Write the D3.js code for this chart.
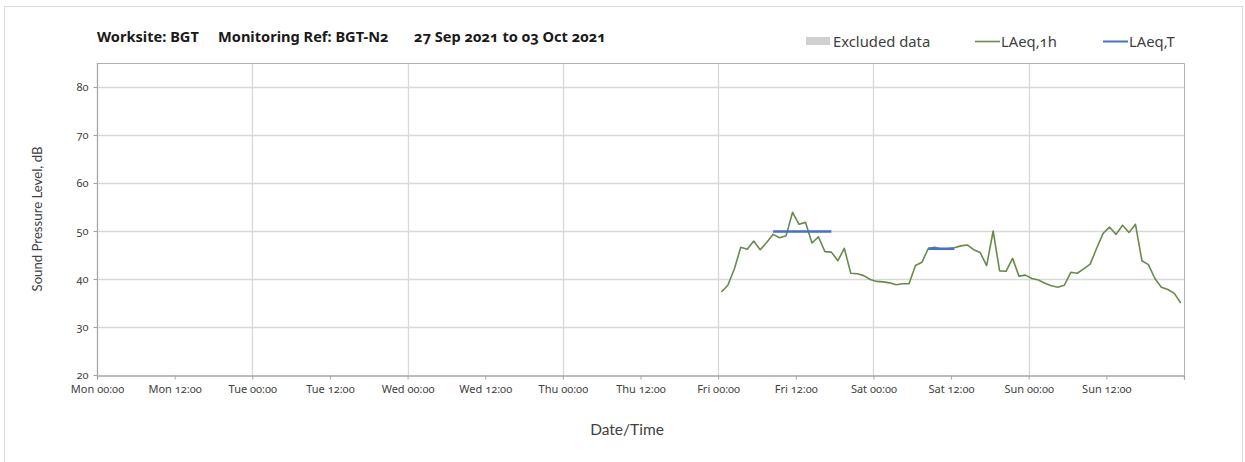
<!DOCTYPE html>
<html>
<head>
<meta charset="utf-8">
<script src="https://cdn.jsdelivr.net/npm/d3@7"></script>
<style>
  html, body { margin: 0; padding: 0; background: #fff; }
  svg text { font-family: Lato, "Open Sans", sans-serif; }
  svg text.num { font-family: "Noto Sans", Lato, sans-serif; font-feature-settings: "onum" 1; font-variant-numeric: oldstyle-nums; }
</style>
</head>
<body>
<svg id="chart" width="1245" height="462"></svg>
<script>
// ---- data ----
const titleParts = ["Worksite: BGT", "Monitoring Ref: BGT-N2", "27 Sep 2021 to 03 Oct 2021"];
const legendLabels = ["Excluded data", "LAeq,1h", "LAeq,T"];
const yTickValues = [20, 30, 40, 50, 60, 70, 80];
const weekStart = new Date(2021, 8, 27, 0, 0);   // Mon 27 Sep 2021 00:00
const weekEnd = new Date(2021, 9, 4, 0, 0);      // Mon 04 Oct 2021 00:00
const seriesStart = new Date(2021, 9, 1, 0, 30); // first hourly value (Fri 01 Oct, mid-hour)
// LAeq,1h hourly values, Fri 00:00 .. Sun 23:00
const laeq1h = [
  37.3, 38.7, 42.1, 46.6, 46.2, 47.9, 46.1, 47.6, 49.3, 48.6, 49.0, 53.9,
  51.4, 51.8, 47.5, 48.8, 45.7, 45.6, 43.8, 46.4, 41.2, 41.1, 40.7, 39.9,
  39.5, 39.4, 39.2, 38.8, 39.0, 39.0, 42.8, 43.5, 46.4, 46.6, 46.2, 46.3,
  46.5, 46.9, 47.1, 46.1, 45.5, 42.8, 50.0, 41.7, 41.6, 44.3, 40.6, 40.8,
  40.1, 39.8, 39.1, 38.6, 38.3, 38.7, 41.4, 41.2, 42.1, 43.1, 46.4, 49.5,
  50.8, 49.3, 51.2, 49.7, 51.4, 43.8, 43.0, 40.1, 38.3, 37.8, 37.0, 35.0
];
// LAeq,T periods: first / last hourly index covered, and level
const laeqTFrom = [8, 32];
const laeqTTo = [17, 36];
const laeqTValue = [49.9, 46.3];

// ---- layout ----
const svg = d3.select("#chart");
const L = 97, R = 1184, T = 63, B = 375;

// outer frame
svg.append("rect").attr("x", 4.5).attr("y", 6.5).attr("width", 1238).attr("height", 470)
  .attr("fill", "none").attr("stroke", "#d9d9d9");

const x = d3.scaleTime().domain([weekStart, weekEnd]).range([L, R]);
const y = d3.scaleLinear().domain([20, 85]).range([B, T]);
const timeOf = i => d3.timeHour.offset(seriesStart, i);

// gridlines
const g = svg.append("g");
g.selectAll(".hg").data(yTickValues.filter(v => v > 20)).join("line")
  .attr("x1", L).attr("x2", R).attr("y1", d => Math.round(y(d)) + 0.5).attr("y2", d => Math.round(y(d)) + 0.5)
  .attr("stroke", "#d9d9d9").attr("stroke-width", 1.3);
const days = d3.timeDay.range(d3.timeDay.offset(weekStart, 1), weekEnd);
g.selectAll(".vg").data(days).join("line")
  .attr("x1", d => Math.round(x(d)) + 0.5).attr("x2", d => Math.round(x(d)) + 0.5).attr("y1", T).attr("y2", B)
  .attr("stroke", "#d9d9d9").attr("stroke-width", 1.3);

// plot border (top/right)
svg.append("path").attr("d", `M${L},${T + 0.5}H${R + 0.5}V${B}`).attr("fill", "none").attr("stroke", "#b0b0b0");

// axes
const xTicks = d3.timeHour.every(12).range(weekStart, d3.timeHour.offset(weekEnd, 1));
const xAxis = d3.axisBottom(x).tickValues(xTicks).tickSize(4).tickPadding(6)
  .tickFormat(d => +d >= +weekEnd ? "" : d3.timeFormat("%a %H:%M")(d));
const gx = svg.append("g").attr("transform", `translate(0,${B + 0.5})`).call(xAxis);
const yAxis = d3.axisLeft(y).tickValues(yTickValues).tickSize(4).tickPadding(5);
const gy = svg.append("g").attr("transform", `translate(${L + 0.5},0)`).call(yAxis);
[gx, gy].forEach(a => {
  a.select(".domain").attr("stroke", "#a6a6a6").attr("stroke-width", 1.3);
  a.selectAll(".tick line").attr("stroke", "#a6a6a6");
  a.selectAll("text").attr("class", "num").attr("fill", "#404040").style("font-size", "11px");
});
gy.select(".domain").attr("d", `M0,${T}V${B}`);

// LAeq,1h line
const line = d3.line().x((d, i) => x(timeOf(i))).y(d => y(d));
svg.append("path").datum(laeq1h).attr("d", line).attr("fill", "none")
  .attr("stroke", "#6a8a4c").attr("stroke-width", 1.6).attr("stroke-linejoin", "round");

// LAeq,T segments
svg.selectAll(".lt").data(laeqTValue).join("line")
  .attr("x1", (d, i) => x(timeOf(laeqTFrom[i]))).attr("x2", (d, i) => x(timeOf(laeqTTo[i])))
  .attr("y1", d => y(d)).attr("y2", d => y(d))
  .attr("stroke", "#4472c4").attr("stroke-width", 2.6);

// title
const titleX = [97, 218, 414];
svg.selectAll(".title").data(titleParts).join("text")
  .attr("class", "num")
  .attr("x", (d, i) => titleX[i]).attr("y", 42)
  .attr("fill", "#1a1a1a").style("font-size", "14.6px").style("font-weight", "bold").text(d => d);

// legend
const lg = svg.append("g");
lg.append("rect").attr("x", 806).attr("y", 37).attr("width", 24).attr("height", 8).attr("fill", "#d0d0d0");
lg.append("line").attr("x1", 975).attr("x2", 1000).attr("y1", 41.5).attr("y2", 41.5).attr("stroke", "#6a8a4c").attr("stroke-width", 1.6);
lg.append("line").attr("x1", 1103).attr("x2", 1128).attr("y1", 41.5).attr("y2", 41.5).attr("stroke", "#4472c4").attr("stroke-width", 2);
const legendX = [833, 1001, 1129];
lg.selectAll("text").data(legendLabels).join("text")
  .attr("class", "num")
  .attr("x", (d, i) => legendX[i]).attr("y", 46.5)
  .attr("fill", "#404040").style("font-size", "14.8px").text(d => d);

// axis titles
svg.append("text").attr("transform", "translate(42,219) rotate(-90)").attr("text-anchor", "middle")
  .attr("fill", "#404040").style("font-size", "13.2px").text("Sound Pressure Level, dB");
svg.append("text").attr("x", 627).attr("y", 435).attr("text-anchor", "middle")
  .attr("fill", "#404040").style("font-size", "15.5px").text("Date/Time");
</script>
</body>
</html>
